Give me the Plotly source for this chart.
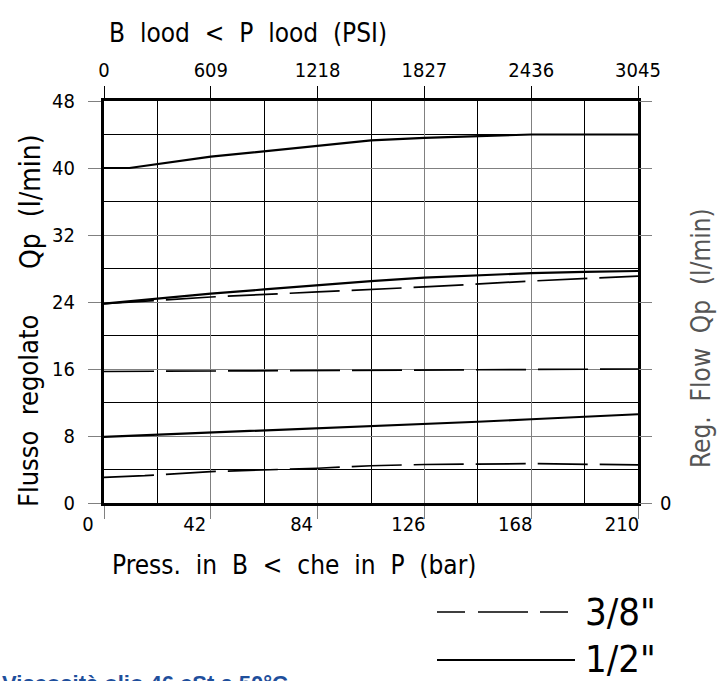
import plotly.graph_objects as go

# ---- data ----
bar_ticks = [0, 42, 84, 126, 168, 210]
psi_ticks = [0, 609, 1218, 1827, 2436, 3045]
flow_ticks = [0, 8, 16, 24, 32, 40, 48]

# 1/2" (solid) curves
x_half_high = [0, 10, 42, 63, 84, 105, 126, 147, 168, 210]
y_half_high = [40, 40, 41.35, 42.0, 42.65, 43.3, 43.6, 43.8, 44.0, 44.0]

x_half_mid = [0, 42, 63, 84, 105, 126, 147, 168, 189, 210]
y_half_mid = [23.8, 25.0, 25.5, 26.0, 26.5, 26.9, 27.2, 27.45, 27.6, 27.7]

x_half_low = [0, 42, 63, 84, 105, 126, 147, 168, 189, 210]
y_half_low = [7.9, 8.4, 8.63, 8.95, 9.2, 9.43, 9.7, 10.0, 10.27, 10.6]

# 3/8" (dashed) curves
x_3_8_high = [0, 42, 84, 126, 168, 210]
y_3_8_high = [23.8, 24.6, 25.2, 25.8, 26.5, 27.1]

x_3_8_mid = [0, 105, 210]
y_3_8_mid = [15.7, 15.85, 16.0]

x_3_8_low = [0, 16, 42, 84, 105, 126, 168, 210]
y_3_8_low = [3.07, 3.26, 3.75, 4.15, 4.45, 4.6, 4.7, 4.55]

# ---- layout geometry helpers (pixel -> paper) ----
W, H = 720, 681
L, R, T, B = 104, 638, 101, 503


def px(x):
    return (x - L) / (R - L)


def py(y):
    return (B - y) / (B - T)


FONT = "Liberation Sans Narrow, DejaVu Sans Condensed, Arial Narrow, sans-serif"
GRID_MAJOR = "#808080"
NB = "\u00a0"
TICK_SIZE = 20

fig = go.Figure()

solid = dict(color="black", width=2.2)
dashed = dict(color="black", width=1.7, dash="50px,12px")

for xs, ys in [(x_half_high, y_half_high), (x_half_mid, y_half_mid), (x_half_low, y_half_low)]:
    fig.add_trace(go.Scatter(x=xs, y=ys, mode="lines", line=solid, showlegend=False, hoverinfo="skip"))
for xs, ys in [(x_3_8_high, y_3_8_high), (x_3_8_mid, y_3_8_mid), (x_3_8_low, y_3_8_low)]:
    fig.add_trace(go.Scatter(x=xs, y=ys, mode="lines", line=dashed, showlegend=False, hoverinfo="skip"))

# invisible trace to activate secondary axes
fig.add_trace(go.Scatter(x=[psi_ticks[0]], y=[flow_ticks[0]], xaxis="x2", yaxis="y2",
                         mode="markers", marker=dict(opacity=0), showlegend=False, hoverinfo="skip"))

fig.update_layout(
    width=W, height=H,
    margin=dict(l=L, r=W - R, t=T, b=H - B, pad=0),
    paper_bgcolor="white", plot_bgcolor="white",
    font=dict(family=FONT, color="black"),
    xaxis=dict(
        range=[0, 210], tickvals=bar_ticks, ticktext=[str(v) for v in bar_ticks],
        ticks="outside", ticklen=13, tickcolor=GRID_MAJOR, tickwidth=1,
        showline=True, linecolor="black", linewidth=3, mirror=True,
        showgrid=True, gridcolor=GRID_MAJOR, gridwidth=1,
        minor=dict(dtick=21, tick0=0, showgrid=True, gridcolor="black", gridwidth=1, ticks=""),
        tickfont=dict(size=TICK_SIZE, family=FONT), ticklabelshift=-16, ticklabelstandoff=-12,
        zeroline=False, fixedrange=True,
    ),
    yaxis=dict(
        range=[0, 48], tickvals=flow_ticks, ticktext=[str(v) for v in flow_ticks],
        ticks="outside", ticklen=13, tickcolor=GRID_MAJOR, tickwidth=1,
        showline=True, linecolor="black", linewidth=3, mirror=True,
        showgrid=True, gridcolor=GRID_MAJOR, gridwidth=1,
        minor=dict(dtick=4, tick0=0, showgrid=True, gridcolor="black", gridwidth=1, ticks=""),
        tickfont=dict(size=TICK_SIZE, family=FONT), ticklabelstandoff=9,
        zeroline=False, fixedrange=True,
    ),
    xaxis2=dict(
        overlaying="x", side="top", anchor="y", range=[0, 3045],
        tickvals=psi_ticks, ticktext=[str(v) for v in psi_ticks],
        ticks="outside", ticklen=14, tickcolor="black", tickwidth=1,
        showgrid=False, showline=False, zeroline=False,
        tickfont=dict(size=TICK_SIZE, family=FONT), ticklabelstandoff=1, fixedrange=True,
    ),
    yaxis2=dict(
        overlaying="y", side="right", anchor="x", range=[0, 48],
        tickvals=flow_ticks, ticktext=["0"] + [""] * (len(flow_ticks) - 1),
        ticks="outside", ticklen=13, tickcolor=GRID_MAJOR, tickwidth=1,
        showgrid=False, showline=False, zeroline=False,
        tickfont=dict(size=TICK_SIZE, family=FONT), ticklabelstandoff=4, fixedrange=True,
    ),
)

ann = []
# top axis title
ann.append(dict(text=f"B{NB}{NB}lood{NB}{NB}<{NB}{NB}P{NB}{NB}lood{NB}{NB}(PSI)",
                x=px(107), y=py(33), xanchor="left", yanchor="middle",
                font=dict(size=26, family=FONT)))
# bottom axis title
ann.append(dict(text=f"Press.{NB}{NB}in{NB}{NB}B{NB}{NB}<{NB}{NB}che{NB}{NB}in{NB}{NB}P{NB}{NB}(bar)",
                x=px(110), y=py(565), xanchor="left", yanchor="middle",
                font=dict(size=26, family=FONT)))
# left axis titles
ann.append(dict(text=f"Qp{NB}{NB}(l/min)", x=px(30), y=py(202), textangle=-90,
                xanchor="center", yanchor="middle", font=dict(size=28, family=FONT)))
ann.append(dict(text=f"Flusso{NB}{NB}regolato", x=px(28), y=py(411), textangle=-90,
                xanchor="center", yanchor="middle", font=dict(size=27, family=FONT)))
# right axis title
ann.append(dict(text=f"Reg.{NB}{NB}Flow{NB}{NB}Qp{NB}{NB}(l/min)", x=px(701), y=py(338), textangle=-90,
                xanchor="center", yanchor="middle", font=dict(size=26, family=FONT, color="#555555")))
# legend labels
ann.append(dict(text="3/8\"", x=px(583), y=py(612), xanchor="left", yanchor="middle",
                font=dict(size=38, family=FONT)))
ann.append(dict(text="1/2\"", x=px(583), y=py(659), xanchor="left", yanchor="middle",
                font=dict(size=38, family=FONT)))
# blue note (cut at the bottom edge)
ann.append(dict(text="<b>Viscosità olio 46 cSt a 50°C</b>", x=px(0), y=py(669), xanchor="left", yanchor="top",
                font=dict(size=22, family="Liberation Sans, Arial, sans-serif", color="#1f4f9c")))
for a in ann:
    a.update(xref="paper", yref="paper", showarrow=False)
fig.update_layout(annotations=ann)

# legend samples
fig.add_shape(type="line", xref="paper", yref="paper", x0=px(437), x1=px(575), y0=py(612), y1=py(612),
              line=dict(color="black", width=1.7, dash="28px,13px,50px,12px"))
fig.add_shape(type="line", xref="paper", yref="paper", x0=px(437), x1=px(575), y0=py(660), y1=py(660),
              line=dict(color="black", width=2.2))

fig.write_html(
    "out.html",
    config={"displayModeBar": False},
    post_script="document.body.style.margin='0px';document.body.style.overflow='hidden';",
)
